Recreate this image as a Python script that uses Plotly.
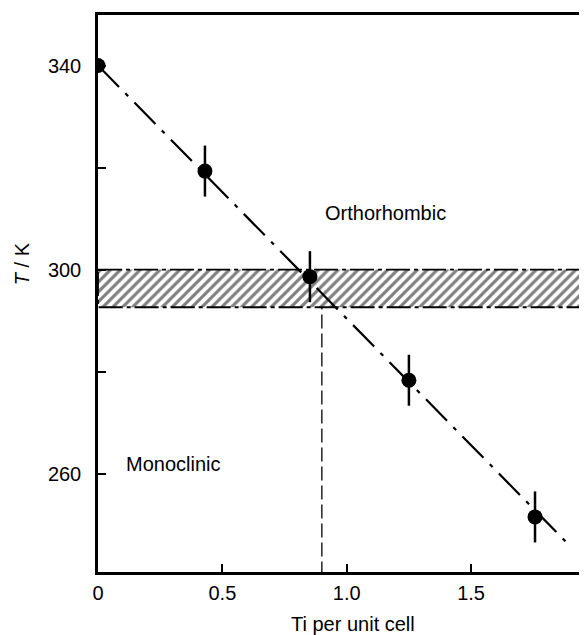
import plotly.graph_objects as go

# Data
ti = [0.0, 0.43, 0.852, 1.25, 1.757]
temp = [340, 319.3, 298.6, 278.3, 251.5]
err = [0, 5, 5, 5, 5]

fit_x = [0.0, 1.894]
fit_y = [340, 246.0]

band_x = [0.0, 2.0, 2.0, 0.0, 0.0]
band_y = [300, 300, 292.6, 292.6, 300]

vline_x = [0.90, 0.90]
vline_y = [240, 292.6]

x_ticks = [0, 0.5, 1.0, 1.5]
x_ticktext = ["0", "0.5", "1.0", "1.5"]
y_ticks = [260, 280, 300, 320, 340]
y_ticktext = ["260", "", "300", "", "340"]

FONT = "Liberation Sans, Arial, sans-serif"
FS = 20

fig = go.Figure()

# hatched band
fig.add_trace(go.Scatter(
    x=band_x, y=band_y, mode="lines", fill="toself",
    fillcolor="white",
    fillpattern=dict(shape="/", size=7, solidity=0.45, fgcolor="black", bgcolor="white"),
    line=dict(color="black", width=1.8, dash="24px,4px,4px,4px"),
    hoverinfo="skip", showlegend=False))

# vertical dashed line
fig.add_trace(go.Scatter(
    x=vline_x, y=vline_y, mode="lines",
    line=dict(color="black", width=1.3, dash="14px,5px"),
    showlegend=False))

# fit line
fig.add_trace(go.Scatter(
    x=fit_x, y=fit_y, mode="lines",
    line=dict(color="black", width=2.2, dash="30px,9px,4px,9px"),
    showlegend=False))

# data points
fig.add_trace(go.Scatter(
    x=ti, y=temp, mode="markers",
    marker=dict(color="black", size=15),
    error_y=dict(type="data", array=err, visible=True, color="black", thickness=2.5, width=0),
    showlegend=False))

fig.add_annotation(x=0.905, y=311.1, text="Orthorhombic", showarrow=False,
                   xanchor="left", font=dict(family=FONT, size=FS, color="black"))
fig.add_annotation(x=0.105, y=261.8, text="Monoclinic", showarrow=False,
                   xanchor="left", font=dict(family=FONT, size=FS, color="black"))
fig.add_annotation(xref="paper", yref="paper", x=0.522, y=-0.093, text="Ti per unit cell",
                   xanchor="center", yanchor="middle", showarrow=False,
                   font=dict(family=FONT, size=FS, color="black"))
fig.add_annotation(xref="paper", yref="paper", x=-0.155, y=0.553, text="<i>T</i> / K",
                   xanchor="center", yanchor="middle",
                   textangle=-90, showarrow=False,
                   font=dict(family=FONT, size=FS, color="black"))

fig.update_layout(
    width=579, height=627,
    margin=dict(l=90, r=0, t=7, b=63, pad=0),
    plot_bgcolor="white", paper_bgcolor="white",
    font=dict(family=FONT, size=FS, color="black"),
    xaxis=dict(range=[0, 1.966], tickvals=x_ticks, ticktext=x_ticktext,
               ticks="inside", ticklen=8, tickwidth=2, tickcolor="black",
               showline=True, linecolor="black", linewidth=2.5, mirror=True,
               showgrid=False, zeroline=False, ticklabelstandoff=1,
               tickfont=dict(family=FONT, size=FS)),
    yaxis=dict(range=[240.7, 349.9], tickvals=y_ticks, ticktext=y_ticktext,
               ticks="inside", ticklen=8, tickwidth=2, tickcolor="black",
               showline=True, linecolor="black", linewidth=2.5, mirror=False,
               showgrid=False, zeroline=False, ticklabelstandoff=10,
               tickfont=dict(family=FONT, size=FS)),
)

fig.write_html("out.html")
